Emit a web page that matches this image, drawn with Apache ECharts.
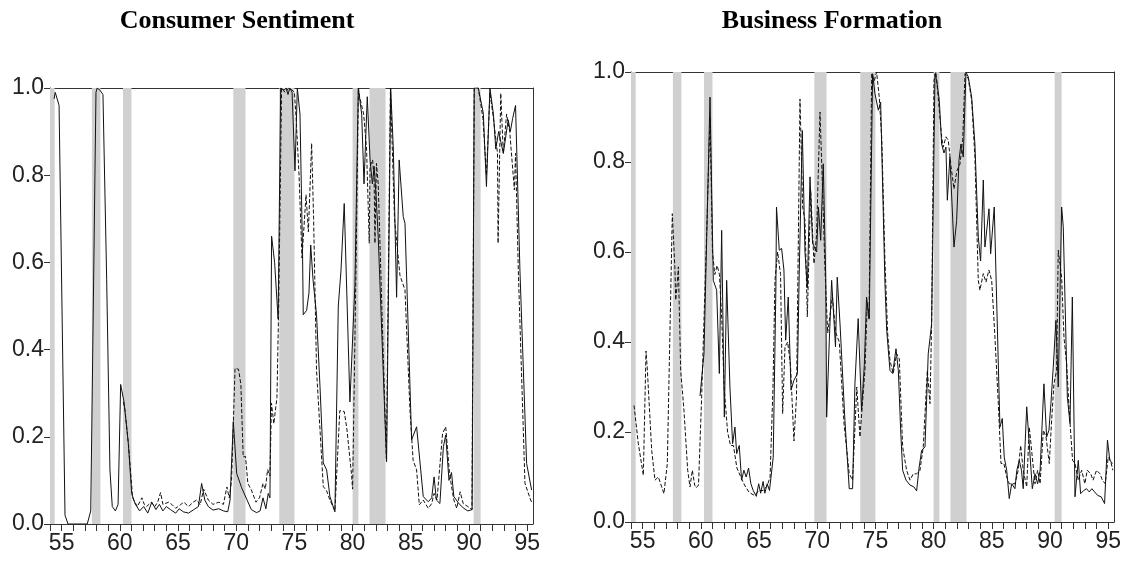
<!DOCTYPE html>
<html>
<head>
<meta charset="utf-8">
<title>Consumer Sentiment and Business Formation</title>
<script src="https://cdn.jsdelivr.net/npm/echarts@6/dist/echarts.min.js"></script>
<style>
  html, body { margin: 0; padding: 0; background: #ffffff; }
  #chart { width: 1129px; height: 563px; }
</style>
</head>
<body>
<div id="chart"></div>
<script>
// Years are two-digit decimal years (55 = 1955); values are probabilities 0..1.

// NBER recession periods shown as shaded bands
const recessions = [
  [53.6, 54.4], [57.6, 58.33], [60.27, 61.0], [69.75, 70.8],
  [73.7, 75.0], [80.0, 80.5], [81.45, 82.83], [90.4, 91.0]
];

const yTicks = [0, 0.2, 0.4, 0.6, 0.8, 1.0];
const yearTicks = [54,55,56,57,58,59,60,61,62,63,64,65,66,67,68,69,70,71,72,73,74,75,
  76,77,78,79,80,81,82,83,84,85,86,87,88,89,90,91,92,93,94,95];
const yearLabels = [55, 60, 65, 70, 75, 80, 85, 90, 95];

// Consumer Sentiment: solid series
const csSolid = [
  [54.35,0.975],[54.45,0.99],[54.78,0.96],[55.29,0.02],[55.55,0.0],[57.2,0.0],[57.5,0.03],
  [57.95,0.99],[58.05,1.0],[58.3,0.995],[58.55,0.985],[58.87,0.56],[59.15,0.124],[59.35,0.04],
  [59.62,0.03],[59.85,0.045],[60.07,0.32],[60.36,0.28],[60.73,0.185],[61.02,0.07],[61.3,0.047],
  [61.7,0.03],[62.05,0.04],[62.4,0.025],[62.75,0.05],[63.1,0.033],[63.4,0.045],[63.7,0.03],
  [64.0,0.04],[64.35,0.033],[64.8,0.025],[65.1,0.035],[65.45,0.028],[65.9,0.025],[66.3,0.032],
  [66.75,0.04],[67.03,0.093],[67.3,0.055],[67.6,0.04],[68.0,0.032],[68.5,0.035],[68.9,0.03],
  [69.27,0.028],[69.47,0.055],[69.75,0.235],[70.04,0.116],[70.47,0.083],[70.9,0.057],[71.3,0.033],
  [71.75,0.026],[72.05,0.03],[72.3,0.06],[72.55,0.035],[72.75,0.07],[72.9,0.06],[73.04,0.66],
  [73.3,0.6],[73.6,0.47],[73.82,1.0],[74.1,0.995],[74.3,1.0],[74.45,0.985],[74.6,1.0],[74.8,0.99],
  [75.05,0.81],[75.25,1.0],[75.48,0.94],[75.7,0.62],[75.76,0.48],[76.05,0.49],[76.25,0.53],
  [76.4,0.64],[76.6,0.56],[76.9,0.48],[77.2,0.315],[77.48,0.14],[77.77,0.124],[78.05,0.063],
  [78.48,0.028],[78.77,0.5],[79.0,0.58],[79.28,0.735],[79.77,0.28],[80.2,0.55],[80.49,1.0],
  [80.78,0.94],[80.98,0.78],[81.26,0.98],[81.5,0.835],[81.7,0.78],[81.85,0.82],[82.0,0.76],
  [82.2,0.66],[82.92,0.143],[83.27,1.0],[83.5,0.86],[83.78,0.52],[84.0,0.835],[84.35,0.705],
  [84.5,0.69],[85.07,0.193],[85.5,0.223],[86.07,0.063],[86.5,0.051],[86.8,0.06],[87.0,0.108],
  [87.2,0.055],[87.5,0.047],[87.8,0.177],[88.0,0.204],[88.28,0.1],[88.5,0.118],[88.7,0.063],
  [89.1,0.048],[89.5,0.037],[89.9,0.03],[90.27,0.033],[90.45,1.0],[90.8,1.0],[91.23,0.942],
  [91.5,0.774],[91.8,1.0],[92.1,0.94],[92.3,0.86],[92.55,0.9],[92.95,0.85],[93.37,0.927],
  [93.55,0.9],[93.75,0.93],[94.0,0.96],[94.38,0.58],[94.95,0.139],[95.38,0.078]
];

// Consumer Sentiment: dashed series
const csDashed = [
  [60.3,0.28],[60.45,0.26],[60.75,0.18],[61.1,0.06],[61.5,0.04],[61.9,0.06],[62.1,0.045],
  [62.3,0.04],[62.7,0.05],[63.0,0.04],[63.25,0.05],[63.5,0.072],[63.7,0.045],[64.2,0.05],
  [64.5,0.044],[64.8,0.036],[65.2,0.044],[65.5,0.05],[65.9,0.04],[66.3,0.05],[66.6,0.055],
  [66.9,0.044],[67.2,0.08],[67.6,0.055],[68.0,0.045],[68.5,0.05],[68.9,0.045],[69.2,0.085],
  [69.4,0.06],[69.6,0.1],[69.9,0.357],[70.2,0.355],[70.4,0.32],[70.6,0.154],[70.8,0.155],
  [71.0,0.093],[71.3,0.078],[71.7,0.05],[72.0,0.06],[72.3,0.093],[72.5,0.08],[72.7,0.125],
  [72.9,0.11],[73.03,0.277],[73.23,0.23],[73.5,0.29],[73.65,0.5],[73.9,1.0],[74.2,0.99],
  [74.5,1.0],[74.8,0.995],[75.0,0.99],[75.15,0.93],[75.4,0.8],[75.65,0.61],[76.0,0.755],
  [76.2,0.67],[76.48,0.873],[76.65,0.7],[76.9,0.353],[77.2,0.216],[77.48,0.086],[77.77,0.076],
  [78.05,0.055],[78.48,0.03],[78.9,0.26],[79.28,0.258],[79.5,0.22],[79.9,0.116],[80.0,0.08],
  [80.3,0.6],[80.5,1.0],[80.6,0.98],[80.95,0.94],[81.2,0.86],[81.43,0.644],[81.5,0.82],
  [81.72,0.835],[81.85,0.79],[81.92,0.644],[82.05,0.827],[82.2,0.78],[82.9,0.15],[83.25,1.0],
  [83.6,0.7],[84.07,0.57],[84.5,0.537],[84.93,0.26],[85.2,0.146],[85.5,0.124],[85.73,0.044],
  [86.07,0.055],[86.5,0.036],[86.8,0.047],[87.0,0.07],[87.25,0.055],[87.73,0.208],[88.0,0.223],
  [88.3,0.124],[88.5,0.086],[88.7,0.055],[88.95,0.036],[89.24,0.074],[89.5,0.047],[89.9,0.04],
  [90.25,0.033],[90.45,1.0],[90.8,1.0],[91.2,0.93],[91.5,0.8],[91.8,0.99],[92.1,0.93],
  [92.45,0.85],[92.5,0.644],[92.73,0.988],[92.95,0.85],[93.23,0.94],[93.5,0.9],[93.9,0.766],
  [94.0,0.85],[94.24,0.58],[94.81,0.093],[95.3,0.055],[95.45,0.047]
];

// Business Formation: solid series
const bfSolid = [
  [59.93,0.28],[60.27,0.374],[60.79,0.944],[61.07,0.537],[61.36,0.515],[61.59,0.33],[61.79,0.648],
  [62.02,0.233],[62.22,0.537],[62.5,0.3],[62.73,0.174],[62.93,0.211],[63.08,0.152],[63.3,0.17],
  [63.5,0.093],[63.7,0.115],[63.9,0.1],[64.1,0.12],[64.3,0.085],[64.5,0.07],[64.77,0.057],
  [64.97,0.085],[65.14,0.064],[65.35,0.09],[65.5,0.064],[65.7,0.085],[65.9,0.07],[66.22,0.144],
  [66.45,0.522],[66.5,0.7],[66.74,0.604],[66.94,0.608],[67.14,0.56],[67.29,0.404],[67.51,0.5],
  [67.75,0.293],[68.0,0.315],[68.3,0.33],[68.46,0.56],[68.72,0.87],[68.95,0.6],[69.15,0.52],
  [69.38,0.767],[69.6,0.62],[69.95,0.6],[70.1,0.7],[70.3,0.626],[70.52,0.796],[70.73,0.544],
  [70.81,0.233],[71.04,0.404],[71.24,0.537],[71.57,0.389],[71.72,0.544],[71.96,0.44],[72.38,0.226],
  [72.75,0.074],[73.04,0.074],[73.24,0.307],[73.52,0.452],[73.81,0.248],[74.05,0.35],[74.24,0.5],
  [74.47,0.452],[74.76,0.996],[74.96,0.952],[75.25,0.915],[75.45,0.933],[75.82,0.53],[75.97,0.426],
  [76.25,0.337],[76.48,0.33],[76.77,0.385],[76.97,0.337],[77.17,0.204],[77.34,0.115],[77.63,0.093],
  [77.97,0.082],[78.31,0.078],[78.54,0.069],[78.75,0.12],[78.97,0.159],[79.26,0.167],[79.54,0.374],
  [79.83,0.44],[80.12,0.996],[80.27,0.98],[80.49,0.937],[80.69,0.84],[80.89,0.82],[81.06,0.833],
  [81.18,0.715],[81.4,0.811],[81.75,0.611],[81.98,0.67],[82.18,0.804],[82.35,0.84],[82.55,0.811],
  [82.78,1.0],[82.98,0.989],[83.27,0.944],[83.55,0.84],[83.84,0.633],[84.04,0.58],[84.27,0.76],
  [84.41,0.611],[84.76,0.696],[84.9,0.596],[85.21,0.7],[85.7,0.211],[85.9,0.23],[86.07,0.144],
  [86.28,0.115],[86.5,0.052],[86.71,0.085],[86.99,0.074],[87.15,0.115],[87.36,0.137],[87.55,0.115],
  [87.7,0.074],[88.0,0.256],[88.22,0.174],[88.48,0.074],[88.71,0.107],[88.94,0.085],[89.15,0.115],
  [89.48,0.307],[89.71,0.189],[89.91,0.204],[90.08,0.263],[90.28,0.344],[90.51,0.448],[90.71,0.3],
  [91.0,0.7],[91.14,0.656],[91.49,0.278],[91.72,0.219],[91.92,0.5],[92.15,0.056],[92.43,0.137],
  [92.63,0.063],[92.9,0.07],[93.14,0.074],[93.37,0.067],[93.6,0.074],[93.83,0.067],[94.1,0.059],
  [94.4,0.056],[94.69,0.041],[94.94,0.182],[95.14,0.137],[95.37,0.13]
];

// Business Formation: dashed series
const bfDashed = [
  [54.26,0.259],[54.63,0.174],[55.06,0.104],[55.29,0.38],[55.4,0.34],[55.78,0.159],[56.06,0.093],
  [56.35,0.1],[56.64,0.078],[56.83,0.063],[57.12,0.13],[57.55,0.685],[57.78,0.559],[57.84,0.493],
  [57.97,0.53],[58.07,0.567],[58.27,0.337],[58.55,0.248],[58.87,0.115],[59.07,0.078],[59.27,0.115],
  [59.47,0.082],[59.6,0.076],[59.8,0.082],[60.07,0.278],[60.45,0.6],[60.79,0.9],[61.0,0.6],
  [61.2,0.55],[61.4,0.57],[61.6,0.55],[61.8,0.45],[62.0,0.3],[62.3,0.2],[62.55,0.17],[62.8,0.17],
  [63.1,0.12],[63.5,0.096],[63.8,0.08],[64.15,0.066],[64.6,0.059],[65.0,0.07],[65.35,0.07],
  [65.7,0.08],[65.95,0.1],[66.2,0.3],[66.37,0.537],[66.6,0.6],[66.85,0.55],[67.03,0.241],
  [67.23,0.389],[67.46,0.4],[67.7,0.35],[68.0,0.18],[68.22,0.278],[68.52,0.94],[68.75,0.7],
  [68.95,0.67],[69.15,0.456],[69.44,0.737],[69.72,0.574],[69.94,0.637],[70.24,0.911],[70.47,0.73],
  [70.66,0.567],[70.9,0.42],[71.3,0.5],[71.6,0.42],[71.9,0.4],[72.3,0.22],[72.75,0.107],
  [73.04,0.093],[73.4,0.3],[73.67,0.189],[74.1,0.337],[74.3,0.485],[74.45,0.45],[74.68,0.996],
  [74.9,0.98],[75.1,1.0],[75.33,0.944],[75.55,0.85],[75.82,0.581],[76.05,0.42],[76.25,0.359],
  [76.53,0.33],[76.82,0.374],[77.05,0.363],[77.34,0.167],[77.68,0.115],[77.97,0.093],[78.25,0.107],
  [78.54,0.107],[78.83,0.115],[79.11,0.167],[79.46,0.337],[79.69,0.263],[79.83,0.44],[80.03,0.981],
  [80.2,1.0],[80.49,0.915],[80.69,0.856],[80.83,0.833],[81.06,0.856],[81.26,0.848],[81.5,0.79],
  [81.75,0.74],[82.0,0.78],[82.27,0.796],[82.5,0.85],[82.7,0.996],[82.98,0.985],[83.27,0.937],
  [83.55,0.81],[83.84,0.537],[83.98,0.515],[84.27,0.552],[84.5,0.533],[84.75,0.56],[84.99,0.537],
  [85.27,0.411],[85.56,0.263],[85.79,0.13],[86.04,0.13],[86.28,0.1],[86.5,0.085],[86.99,0.085],
  [87.27,0.115],[87.48,0.17],[87.7,0.115],[88.0,0.078],[88.22,0.211],[88.48,0.144],[88.71,0.085],
  [88.94,0.115],[89.15,0.085],[89.43,0.204],[89.66,0.189],[89.94,0.13],[90.14,0.226],[90.34,0.307],
  [90.57,0.337],[90.71,0.604],[91.0,0.544],[91.2,0.411],[91.43,0.352],[91.65,0.248],[91.94,0.137],
  [92.15,0.13],[92.43,0.093],[92.72,0.115],[93.0,0.085],[93.2,0.115],[93.5,0.107],[93.7,0.093],
  [94.0,0.115],[94.3,0.107],[94.5,0.093],[94.75,0.085],[95.0,0.144],[95.2,0.137],[95.4,0.115]
];

const titles = ['Consumer Sentiment', 'Business Formation'];

// ---- chart construction ----
const FRAME = '#333333';
const TEXT = '#222222';
const LINE = '#111111';
const BAND = '#d0d0d0';
const X_MIN = 54, X_MAX = 95.5;
const LABEL_FONT = { color: TEXT, fontSize: 23, fontFamily: 'Liberation Sans' };

const grids = [
  { left: 50, top: 88, width: 483, height: 436 },
  { left: 631, top: 72, width: 483, height: 450 }
];

function bottomAxis(gi) {
  return {
    type: 'value', gridIndex: gi, position: 'bottom', min: X_MIN, max: X_MAX,
    axisLine: { show: true, onZero: false, lineStyle: { color: FRAME, width: 1 } },
    axisTick: { show: true, inside: false, length: 7, customValues: yearTicks,
      lineStyle: { color: FRAME, width: 1 } },
    axisLabel: Object.assign({ show: true, customValues: yearLabels, margin: 8,
      formatter: v => String(v) }, LABEL_FONT),
    splitLine: { show: false }
  };
}
function topAxis(gi) {
  return {
    type: 'value', gridIndex: gi, position: 'top', min: X_MIN, max: X_MAX,
    axisLine: { show: true, onZero: false, lineStyle: { color: FRAME, width: 1 } },
    axisTick: { show: false }, axisLabel: { show: false }, splitLine: { show: false }
  };
}
function leftAxis(gi) {
  return {
    type: 'value', gridIndex: gi, position: 'left', min: 0, max: 1, interval: 0.2,
    axisLine: { show: true, onZero: false, lineStyle: { color: FRAME, width: 1 } },
    axisTick: { show: true, inside: false, length: 6, lineStyle: { color: FRAME, width: 1 } },
    axisLabel: Object.assign({ show: true, margin: 6, formatter: v => v.toFixed(1) }, LABEL_FONT),
    splitLine: { show: false }
  };
}
function rightAxis(gi) {
  return {
    type: 'value', gridIndex: gi, position: 'right', min: 0, max: 1,
    axisLine: { show: true, onZero: false, lineStyle: { color: FRAME, width: 1 } },
    axisTick: { show: false }, axisLabel: { show: false }, splitLine: { show: false }
  };
}

function bandSeries(xi, yi) {
  return {
    type: 'line', xAxisIndex: xi, yAxisIndex: yi, data: [], z: 1, silent: true,
    markArea: {
      silent: true,
      itemStyle: { color: BAND, opacity: 1 },
      data: recessions.map(r => [{ xAxis: r[0] }, { xAxis: r[1] }])
    }
  };
}
function lineSeries(data, xi, yi, dashed) {
  return {
    type: 'line', xAxisIndex: xi, yAxisIndex: yi, data: data, z: dashed ? 3 : 4,
    showSymbol: false, symbol: 'none', clip: true, animation: false, silent: true,
    lineStyle: { color: LINE, width: 1, type: dashed ? [4, 2] : 'solid' }
  };
}

const option = {
  animation: false,
  backgroundColor: '#ffffff',
  grid: grids,
  xAxis: [bottomAxis(0), topAxis(0), bottomAxis(1), topAxis(1)],
  yAxis: [leftAxis(0), rightAxis(0), leftAxis(1), rightAxis(1)],
  graphic: [
    { type: 'text', x: 237, y: 21, silent: true,
      style: { text: titles[0], textAlign: 'center', textVerticalAlign: 'middle',
        font: 'bold 26px "Liberation Serif", "Times New Roman", serif', fill: '#000' } },
    { type: 'text', x: 832, y: 21, silent: true,
      style: { text: titles[1], textAlign: 'center', textVerticalAlign: 'middle',
        font: 'bold 26px "Liberation Serif", "Times New Roman", serif', fill: '#000' } }
  ],
  series: [
    bandSeries(0, 0),
    lineSeries(csDashed, 0, 0, true),
    lineSeries(csSolid, 0, 0, false),
    bandSeries(2, 2),
    lineSeries(bfDashed, 2, 2, true),
    lineSeries(bfSolid, 2, 2, false)
  ]
};

const chart = echarts.init(document.getElementById('chart'), null, { renderer: 'canvas' });
chart.setOption(option);
</script>
</body>
</html>
